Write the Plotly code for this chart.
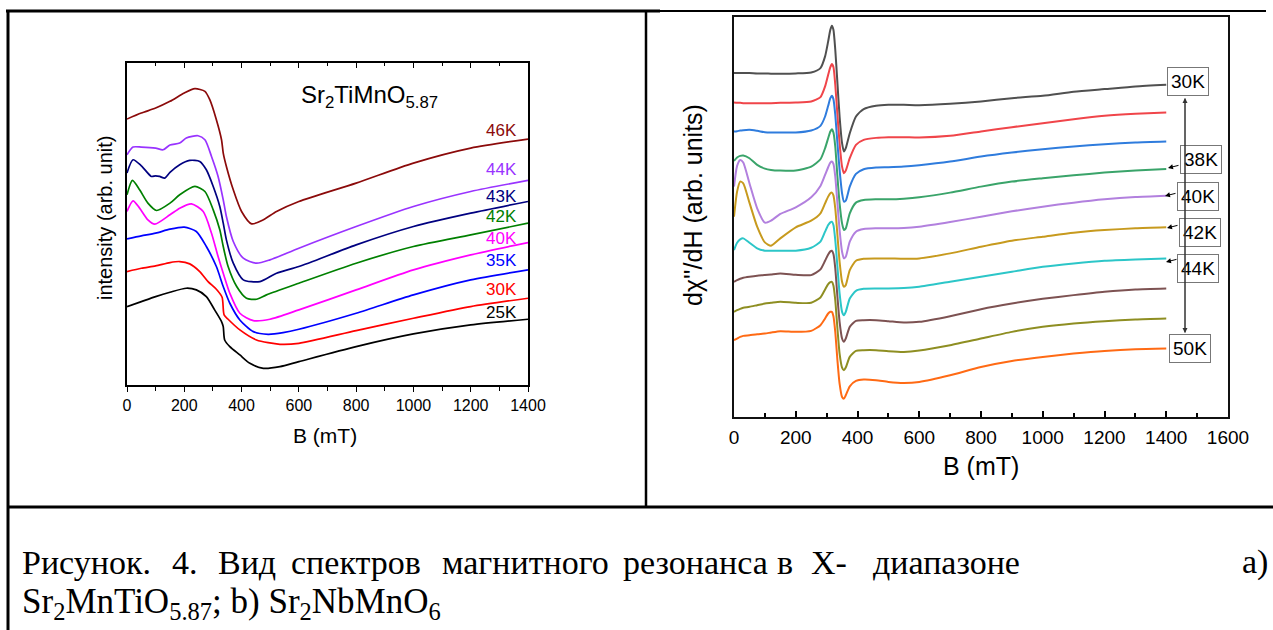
import plotly.graph_objects as go

W, H = 1273, 630

# ---------------- panel (a): Sr2TiMnO5.87, intensity vs B ----------------
a_B_46K = [0, 50, 100, 150, 200, 237, 272, 289, 312, 330, 336, 347, 371, 400, 435, 476, 522, 600, 800, 1000, 1200, 1400]
a_I_46K = [79.7, 81.5, 83.0, 85.0, 87.5, 88.8, 88.0, 85.5, 79.5, 73.5, 69.5, 65.5, 58.5, 52.0, 48.3, 49.5, 52.0, 55.0, 60.5, 66.5, 71.0, 73.7]

a_B_44K = [0, 21, 50, 100, 126, 150, 184, 207, 248, 272, 295, 318, 336, 347, 371, 406, 452, 499, 600, 800, 1000, 1200, 1400]
a_I_44K = [69.0, 71.3, 71.3, 71.0, 70.5, 71.9, 72.5, 74.0, 74.7, 73.5, 68.5, 62.5, 55.5, 50.5, 43.0, 38.0, 36.5, 37.5, 41.0, 47.5, 53.5, 58.0, 61.3]

a_B_43K = [0, 21, 50, 85, 100, 114, 132, 150, 184, 219, 254, 277, 301, 324, 336, 347, 371, 406, 464, 522, 600, 800, 1000, 1200, 1400]
a_I_43K = [63.5, 67.5, 65.7, 62.5, 62.7, 62.5, 62.0, 63.7, 66.0, 67.3, 67.0, 64.5, 59.5, 53.5, 48.5, 43.5, 36.5, 31.5, 31.0, 33.5, 35.5, 42.0, 47.5, 51.5, 55.0]

a_B_42K = [0, 19, 44, 73, 103, 150, 184, 237, 272, 301, 324, 336, 353, 383, 417, 452, 487, 600, 800, 1000, 1200, 1400]
a_I_42K = [57.0, 61.3, 58.5, 54.5, 52.3, 54.5, 57.0, 59.5, 58.0, 52.5, 46.5, 41.5, 35.5, 29.5, 26.0, 25.7, 27.0, 30.5, 36.5, 41.5, 45.0, 48.5]

a_B_40K = [0, 21, 44, 73, 97, 150, 184, 225, 266, 295, 318, 336, 359, 394, 441, 499, 600, 800, 1000, 1200, 1400]
a_I_40K = [52.0, 55.2, 53.0, 49.5, 48.2, 51.0, 53.0, 54.3, 52.0, 45.5, 38.5, 33.5, 27.5, 21.5, 19.3, 19.7, 22.5, 28.5, 34.5, 39.0, 42.7]

a_B_35K = [0, 50, 100, 150, 200, 242, 277, 312, 336, 359, 394, 441, 493, 545, 600, 800, 1000, 1200, 1400]
a_I_35K = [43.8, 44.7, 45.5, 46.7, 47.3, 46.0, 41.5, 35.5, 29.5, 24.5, 19.5, 16.0, 15.2, 15.7, 16.7, 21.5, 27.0, 31.5, 34.5]

a_B_30K = [0, 50, 100, 150, 184, 219, 254, 283, 312, 332, 339, 353, 394, 452, 534, 600, 800, 1000, 1200, 1400]
a_I_30K = [34.0, 35.0, 35.7, 36.7, 37.0, 36.3, 34.0, 31.0, 28.7, 26.3, 21.0, 19.7, 16.5, 13.5, 12.2, 12.5, 16.3, 20.0, 23.5, 26.0]

a_B_25K = [0, 50, 100, 150, 207, 242, 277, 306, 330, 336, 341, 359, 394, 429, 476, 534, 600, 800, 1000, 1200, 1400]
a_I_25K = [23.5, 25.0, 26.5, 27.8, 29.0, 28.5, 26.5, 22.5, 19.0, 17.5, 13.5, 11.5, 9.0, 6.5, 5.0, 5.5, 7.0, 11.5, 15.3, 18.0, 19.7]

a_labels = ["46K", "44K", "43K", "42K", "40K", "35K", "30K", "25K"]
a_series = [(a_B_46K, a_I_46K), (a_B_44K, a_I_44K), (a_B_43K, a_I_43K), (a_B_42K, a_I_42K),
            (a_B_40K, a_I_40K), (a_B_35K, a_I_35K), (a_B_30K, a_I_30K), (a_B_25K, a_I_25K)]
a_label_y = [76.2, 64.7, 56.5, 50.5, 44.0, 37.2, 28.7, 21.8]
a_colors = ["#8B0A0A", "#9933FF", "#000080", "#008000", "#FF00FF", "#0000FF", "#FF0000", "#000000"]
a_ticks = [0, 200, 400, 600, 800, 1000, 1200, 1400]

# ---------------- panel (b): Sr2NbMnO6, dchi''/dH vs B ----------------
b_B = [0, 10, 20, 30, 50, 75, 100, 120, 150, 200, 250, 280, 295, 305, 312, 317, 322, 328, 335, 342,
       350, 356, 362, 375, 395, 420, 460, 500, 550, 600, 700, 800, 900, 1000, 1100, 1200, 1300, 1400]
b_30K = [103.0, 103.0, 103.0, 103.0, 103.0, 102.9, 102.9, 102.8, 102.8, 102.9, 103.2, 104.5, 108.0, 112.5, 116.0, 117.2, 116.0, 110.0, 100.0, 90.0,
         82.0, 79.5, 80.5, 85.0, 90.0, 92.2, 93.2, 93.5, 93.5, 93.4, 93.8, 94.5, 95.5, 96.2, 97.4, 98.2, 99.0, 99.5]
b_c2 = [94.2, 94.1, 94.1, 94.0, 94.0, 94.0, 94.0, 94.0, 94.1, 94.2, 94.5, 95.8, 99.0, 102.5, 104.8, 105.7, 104.8, 99.5, 90.5, 82.0,
        75.0, 73.0, 73.8, 77.5, 81.5, 83.0, 83.6, 83.8, 83.8, 83.7, 84.2, 85.5, 86.8, 88.0, 89.2, 90.2, 90.8, 91.2]
b_c3 = [85.5, 85.6, 85.8, 85.9, 86.0, 85.7, 85.3, 85.2, 85.2, 85.2, 85.8, 87.2, 90.0, 93.2, 95.5, 96.2, 95.2, 90.5, 82.0, 74.0,
        67.0, 64.5, 64.8, 69.0, 72.8, 74.2, 74.7, 74.8, 75.0, 75.4, 76.5, 78.0, 79.2, 80.2, 81.0, 81.7, 82.2, 82.5]
b_38K = [76.7, 77.7, 78.2, 78.3, 77.5, 75.5, 74.4, 74.0, 73.8, 73.8, 75.0, 77.2, 80.5, 83.5, 85.5, 86.2, 85.2, 81.0, 72.0, 64.0,
         58.0, 56.0, 56.5, 61.0, 64.2, 65.0, 65.2, 65.2, 65.4, 65.8, 67.2, 69.0, 70.5, 71.5, 72.4, 73.2, 73.8, 74.3]
b_40K = [69.0, 75.2, 77.0, 76.2, 70.0, 62.5, 58.2, 58.8, 60.8, 62.8, 65.8, 69.2, 72.5, 74.8, 76.2, 76.5, 75.8, 72.0, 64.0, 56.0,
         49.5, 47.5, 48.0, 52.5, 55.5, 56.3, 56.5, 56.5, 56.6, 57.0, 58.4, 60.0, 61.6, 63.0, 64.2, 65.2, 65.9, 66.3]
b_42K = [60.0, 67.5, 70.5, 70.0, 64.2, 57.0, 52.3, 51.3, 53.5, 56.8, 58.8, 61.0, 64.0, 66.0, 67.0, 67.2, 66.4, 62.5, 54.5, 46.5,
         40.5, 39.0, 39.5, 44.0, 46.8, 47.4, 47.5, 47.5, 47.4, 47.5, 49.0, 51.0, 52.8, 54.0, 55.2, 56.0, 56.5, 56.8]
b_44K = [50.0, 52.2, 53.2, 53.5, 52.2, 50.5, 49.8, 49.8, 49.8, 49.8, 50.7, 52.5, 55.5, 57.5, 58.3, 58.5, 57.5, 53.0, 45.0, 37.0,
         31.5, 30.5, 31.5, 35.5, 37.8, 38.4, 38.5, 38.5, 38.6, 39.0, 40.5, 42.0, 43.5, 45.0, 46.0, 46.8, 47.2, 47.5]
b_c8 = [40.5, 41.0, 41.4, 41.7, 42.0, 42.3, 42.5, 42.7, 43.0, 42.6, 42.5, 44.2, 46.8, 48.7, 49.6, 49.8, 48.8, 44.5, 36.0, 28.5,
        23.5, 22.5, 23.5, 27.0, 28.8, 29.0, 29.0, 28.7, 28.3, 28.5, 30.2, 32.3, 34.0, 35.4, 36.5, 37.5, 38.2, 38.5]
b_c9 = [31.5, 32.0, 32.4, 32.7, 33.0, 33.5, 34.0, 34.2, 34.5, 34.2, 34.2, 35.8, 38.2, 39.8, 40.4, 40.5, 39.4, 35.0, 26.5, 19.0,
        14.8, 14.0, 14.8, 18.0, 19.8, 20.0, 20.0, 19.7, 19.5, 19.9, 21.5, 23.5, 25.5, 27.0, 28.0, 28.7, 29.2, 29.5]
b_50K = [23.0, 23.5, 24.0, 24.3, 24.5, 24.8, 25.0, 25.3, 25.7, 25.5, 25.8, 27.5, 29.5, 31.0, 31.5, 31.5, 30.2, 25.5, 17.0, 10.0,
         6.0, 5.5, 6.5, 9.2, 10.8, 11.2, 11.0, 10.5, 10.2, 10.5, 12.5, 15.0, 16.8, 18.0, 19.0, 19.8, 20.3, 20.5]

b_names = ["30K", "T2", "T3", "38K", "40K", "42K", "44K", "T8", "T9", "50K"]
b_series = [b_30K, b_c2, b_c3, b_38K, b_40K, b_42K, b_44K, b_c8, b_c9, b_50K]
b_colors = ["#505050", "#F0454A", "#2F7CDD", "#3AA46A", "#B280DE", "#C79A1E", "#2CC6C8", "#7D5252", "#8E8E22", "#FF6A14"]
b_box_labels = ["30K", "38K", "40K", "42K", "44K", "50K"]
b_ticks = [0, 200, 400, 600, 800, 1000, 1200, 1400, 1600]

# caption text
cap_words = ["Рисунок.", "4.", "Вид", "спектров", "магнитного", "резонанса", "в", "X-", "диапазоне", "а)"]
cap_line2 = "Sr<sub>2</sub>MnTiO<sub>5.87</sub>; b) Sr<sub>2</sub>NbMnO<sub>6</sub>"


def px(x):
    return x / W


def py(y):
    return 1 - y / H


SANS = "Liberation Sans, Arial, sans-serif"
SERIF = "Liberation Serif, Times New Roman, serif"

fig = go.Figure()

for (bx, iy), name, col in zip(a_series, a_labels, a_colors):
    fig.add_trace(go.Scatter(x=bx, y=iy, mode="lines", name=name, xaxis="x", yaxis="y",
                             line=dict(color=col, width=1.7, shape="spline", smoothing=0.7),
                             showlegend=False, hoverinfo="skip"))
# invisible trace to anchor the top (inside-tick) axis of panel a
fig.add_trace(go.Scatter(x=[0, 1400], y=[0, 0], mode="lines", xaxis="x3", yaxis="y",
                         line=dict(width=0), showlegend=False, hoverinfo="skip"))

for yv, name, col in zip(b_series, b_names, b_colors):
    fig.add_trace(go.Scatter(x=b_B, y=yv, mode="lines", name=name, xaxis="x2", yaxis="y2",
                             line=dict(color=col, width=2, shape="spline", smoothing=0.6),
                             showlegend=False, hoverinfo="skip"))

ann = []


def text_at(x, y, text, size, family=SANS, color="black", xanchor="center", yanchor="middle", **kw):
    ann.append(dict(x=px(x), y=py(y), xref="paper", yref="paper", text=text, showarrow=False,
                    xanchor=xanchor, yanchor=yanchor, font=dict(family=family, size=size, color=color), **kw))


# panel a labels
for lab, yv, col in zip(a_labels, a_label_y, a_colors):
    ann.append(dict(x=1369, y=yv, xref="x", yref="y", text=lab, showarrow=False,
                    xanchor="right", yanchor="middle", font=dict(family=SANS, size=17, color=col)))
ann.append(dict(x=600, y=86.5, xref="x", yref="y", text="Sr<sub>2</sub>TiMnO<sub>5.87</sub>",
                showarrow=False, xanchor="left", yanchor="middle", font=dict(family=SANS, size=24, color="black")))
text_at(105, 218, "intensity (arb. unit)", 20, textangle=-90)
text_at(325, 435, "B (mT)", 21)

# panel b labels
text_at(693, 205, "dχ''/dH (arb. units)", 25, textangle=-90)
text_at(981, 466, "B (mT)", 25)
box_pos = [(1188, 82), (1201, 159), (1198, 196), (1200, 232), (1198, 268), (1190, 348)]
for lab, (bx, by) in zip(b_box_labels, box_pos):
    text_at(bx, by, lab, 19, bgcolor="white", bordercolor="#777777", borderwidth=1, borderpad=3)
# vertical double arrow
ann.append(dict(x=px(1185), y=py(98), xref="paper", yref="paper", text="", showarrow=True,
                ax=0, ay=236, arrowhead=2, arrowsize=1, arrowwidth=1, arrowcolor="#333333"))
ann.append(dict(x=px(1185), y=py(333), xref="paper", yref="paper", text="", showarrow=True,
                ax=0, ay=-236, arrowhead=2, arrowsize=1, arrowwidth=1, arrowcolor="#333333"))
# small pointers to curves
for tx, ty in [(1168, 168), (1165, 196), (1167, 228), (1166, 262)]:
    ann.append(dict(x=px(tx), y=py(ty), xref="paper", yref="paper", text="", showarrow=True,
                    ax=12, ay=-3, arrowhead=2, arrowsize=1, arrowwidth=1, arrowcolor="black"))

# caption (justified first line)
cap_x = [20, 170, 216, 289, 440, 621, 775, 809, 871, 1240]
for wd, xx in zip(cap_words, cap_x):
    text_at(xx, 562, wd, 34, family=SERIF, xanchor="left")
text_at(20, 603, cap_line2, 35, family=SERIF, xanchor="left")

shapes = [
    dict(type="line", xref="paper", yref="paper", x0=px(6), x1=px(660), y0=py(11), y1=py(11), line=dict(color="black", width=3)),
    dict(type="line", xref="paper", yref="paper", x0=px(660), x1=px(1266), y0=py(11), y1=py(11), line=dict(color="black", width=2)),
    dict(type="line", xref="paper", yref="paper", x0=px(8), x1=px(8), y0=py(10), y1=py(630), line=dict(color="black", width=3)),
    dict(type="line", xref="paper", yref="paper", x0=px(646), x1=px(646), y0=py(11), y1=py(507), line=dict(color="black", width=2.5)),
    dict(type="line", xref="paper", yref="paper", x0=px(8), x1=px(1273), y0=py(507), y1=py(507), line=dict(color="black", width=3)),
]

tickfont_a = dict(family=SANS, size=16, color="black")
tickfont_b = dict(family=SANS, size=19, color="black")

fig.update_layout(
    template="none",
    width=W, height=H, autosize=False, margin=dict(l=0, r=0, t=0, b=0, pad=0),
    paper_bgcolor="white", plot_bgcolor="rgba(0,0,0,0)",
    font=dict(family=SANS, color="black"),
    showlegend=False,
    xaxis=dict(domain=[px(127), px(528)], range=[0, 1400], anchor="y", automargin=False,
               tickvals=a_ticks, ticks="outside", ticklen=5, tickwidth=1, tickcolor="black",
               minor=dict(dtick=100, ticks="outside", ticklen=4, tickcolor="black"),
               showline=True, linecolor="black", linewidth=1.5, mirror=True,
               showgrid=False, zeroline=False, tickfont=tickfont_a),
    xaxis3=dict(range=[0, 1400], overlaying="x", anchor="y", side="top", automargin=False,
                tickvals=a_ticks, ticks="inside", ticklen=5, tickcolor="black", showticklabels=False,
                minor=dict(dtick=100, ticks="inside", ticklen=3, tickcolor="black"),
                showline=False, showgrid=False, zeroline=False),
    yaxis=dict(domain=[py(385), py(63)], range=[0, 96.5], anchor="x", automargin=False,
               showticklabels=False, ticks="", showline=True, linecolor="black", linewidth=1.5,
               mirror=True, showgrid=False, zeroline=False),
    xaxis2=dict(domain=[px(734), px(1228)], range=[0, 1600], anchor="y2", automargin=False,
                tickvals=b_ticks, ticks="inside", ticklen=6, tickwidth=1.5, tickcolor="black",
                minor=dict(dtick=100, ticks="inside", ticklen=4, tickcolor="black"),
                showline=True, linecolor="#111111", linewidth=2, mirror=True,
                showgrid=False, zeroline=False, tickfont=tickfont_b, ticklabelstandoff=2),
    yaxis2=dict(domain=[py(417), py(17)], range=[0, 119.8], anchor="x2", automargin=False,
                showticklabels=False, ticks="", showline=True, linecolor="#111111", linewidth=2,
                mirror=True, showgrid=False, zeroline=False),
    annotations=ann,
    shapes=shapes,
)

fig.write_html("out.html",
               config={"displayModeBar": False, "responsive": False},
               post_script="document.body.style.margin='0';document.body.style.padding='0';"
                           "document.body.style.overflow='hidden';")
